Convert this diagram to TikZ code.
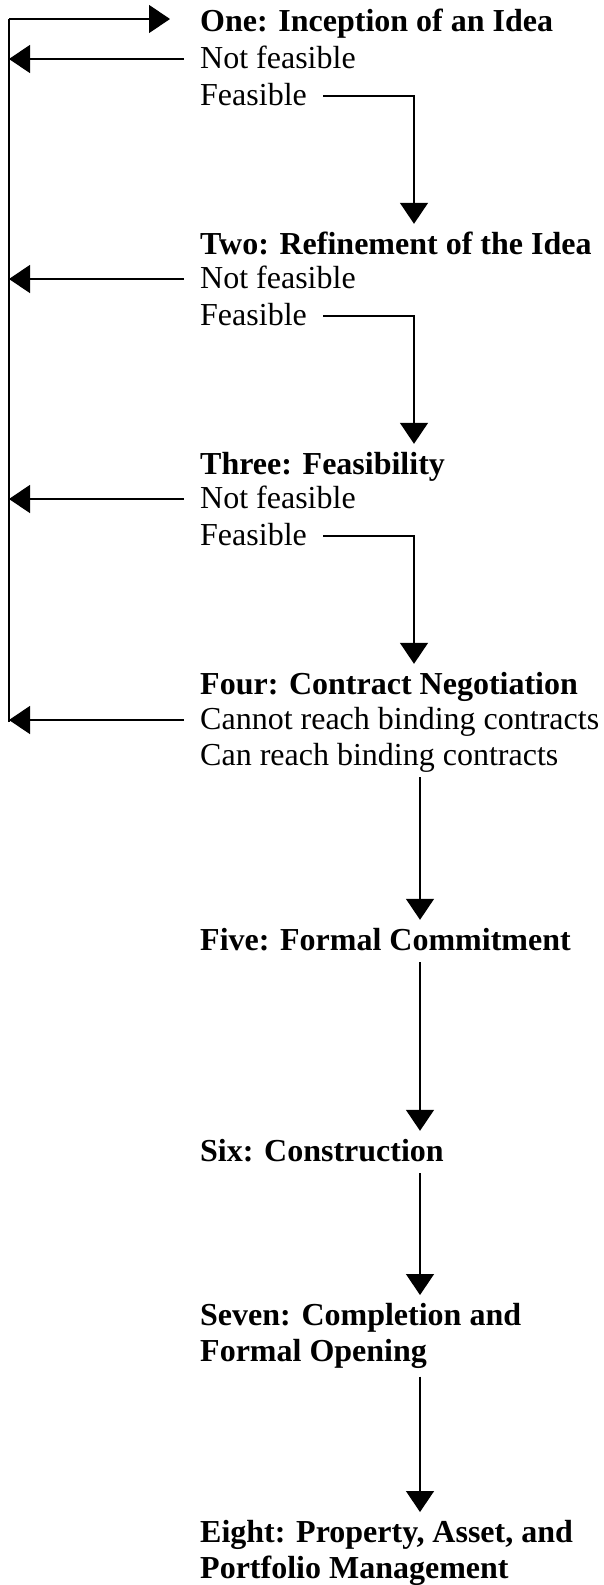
\documentclass[tikz,border=0pt]{standalone}
\usepackage{fontspec}
\setmainfont{Liberation Serif}
\usetikzlibrary{arrows.meta}

\begin{document}
\begin{tikzpicture}[x=1pt, y=-1pt,
  stage/.style={anchor=base west, inner xsep=16pt, inner ysep=8pt, text height=22pt, text depth=4pt, font=\fontsize{32}{36}\selectfont\bfseries},
  stagetwo/.style={anchor=north west, inner xsep=16pt, inner ysep=8pt, align=left, font=\fontsize{32}{36}\selectfont\bfseries},
  opt/.style={anchor=base west, inner xsep=16pt, inner ysep=8pt, text height=22pt, text depth=4pt, font=\fontsize{32}{36}\selectfont},
  arr/.style={-{Triangle[length=21pt, width=28pt]}, line width=1.4pt},
  ln/.style={line width=1.4pt}
]
\useasboundingbox (0,0) rectangle (604,1585);
\coordinate (top) at (9,19);
\coordinate (bot) at (9,722);
\coordinate (col) at (414,0);
\coordinate (down) at (420,0);

\node[stage] (one) at (184,31) {One: Inception of an Idea};
\node[opt] (nf1) at (184,68) {Not feasible};
\node[opt] (f1) at (184,105) {Feasible};

\node[stage] (two) at (184,254) {Two: Refinement of the Idea};
\node[opt] (nf2) at (184,288) {Not feasible};
\node[opt] (f2) at (184,325) {Feasible};

\node[stage] (three) at (184,474) {Three: Feasibility};
\node[opt] (nf3) at (184,508) {Not feasible};
\node[opt] (f3) at (184,545) {Feasible};

\node[stage] (four) at (184,694) {Four: Contract Negotiation};
\node[opt] (cannot) at (184,729) {Cannot reach binding contracts};
\node[opt] (can) at (184,765) {Can reach binding contracts};

\node[stage] (five) at (184,950) {Five: Formal Commitment};
\node[stage] (six) at (184,1161) {Six: Construction};
\node[stagetwo] (seven) at (184,1295) {Seven: Completion and\\Formal Opening};
\node[stagetwo] (eight) at (184,1512) {Eight: Property, Asset, and\\Portfolio Management};

% back to the start
\draw[ln] (bot) -- (top);
\draw[arr, shorten >=14pt] (top) -- (top -| one.west);
\draw[arr] (nf1.west) -- (nf1.west -| top);
\draw[arr] (nf2.west) -- (nf2.west -| top);
\draw[arr] (nf3.west) -- (nf3.west -| top);
\draw[arr] (cannot.west) -- (cannot.west -| top);

% on to the next stage
\draw[arr] (f1.east) -| (col |- two.north);
\draw[arr] (f2.east) -| (col |- three.north);
\draw[arr] (f3.east) -| (col |- four.north);
\draw[arr] (can.south -| down) -- (five.north -| down);
\draw[arr] (five.south -| down) -- (six.north -| down);
\draw[arr] (six.south -| down) -- (seven.north -| down);
\draw[arr] (seven.south -| down) -- (eight.north -| down);
\end{tikzpicture}
\end{document}
